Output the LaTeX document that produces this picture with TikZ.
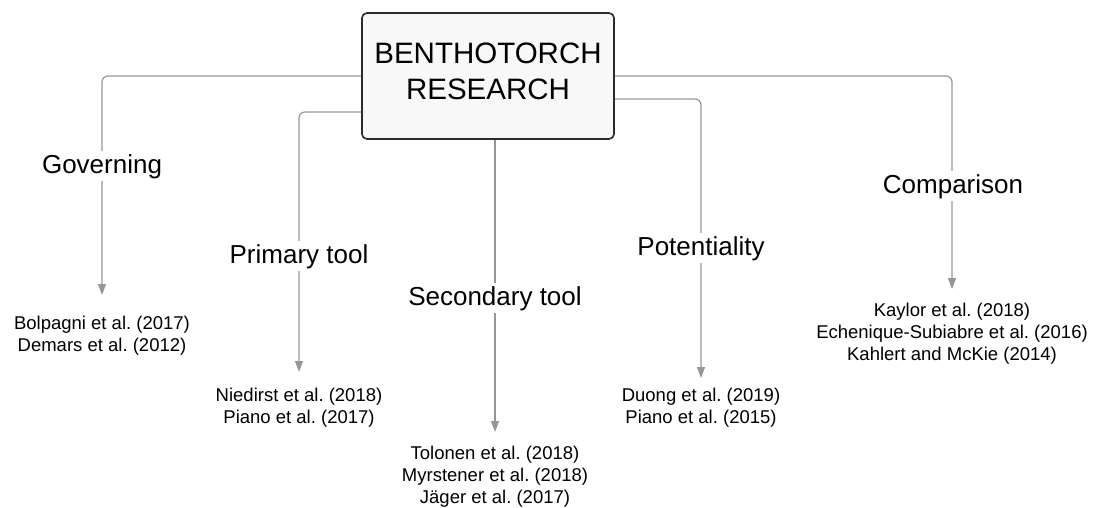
\documentclass[tikz,border=0pt]{standalone}
\usepackage{fontspec}
\setmainfont{Liberation Sans}
\usetikzlibrary{arrows.meta}
\definecolor{linegray}{HTML}{969696}
\definecolor{boxfill}{HTML}{F8F8F8}
\definecolor{boxline}{HTML}{2B2B2B}
\frenchspacing
\begin{document}
\begin{tikzpicture}[x=1pt,y=-1pt,
  topic/.style={draw=boxline, line width=1.6pt, fill=boxfill, rounded corners=5pt,
    minimum width=252pt, minimum height=126pt, align=center,
    font=\fontsize{29.5}{36}\selectfont, text depth=10pt},
  branch/.style={fill=white, inner sep=3pt, anchor=base, font=\fontsize{26}{30}\selectfont},
  refs/.style={anchor=north, inner sep=0pt, align=center, font=\fontsize{18.5}{22}\selectfont},
  link/.style={draw=linegray, line width=1.2pt, rounded corners=6pt,
    -{Triangle[width=8pt,length=11pt]}}]
\useasboundingbox (0,0) rectangle (1099,507);
\node[topic] (topic) at (488,76) {BENTHOTORCH\\RESEARCH};
% references under each branch
\node[refs] (gov) at (102,316) {Bolpagni et al. (2017)\\Demars et al. (2012)};
\node[refs] (prim) at (299,388) {Niedirst et al. (2018)\\Piano et al. (2017)};
\node[refs] (sec) at (495,446) {Tolonen et al. (2018)\\Myrstener et al. (2018)\\Jäger et al. (2017)};
\node[refs] (pot) at (701,388) {Duong et al. (2019)\\Piano et al. (2015)};
\node[refs] (comp) at (952,303) {Kaylor et al. (2018)\\Echenique-Subiabre et al. (2016)\\Kahlert and McKie (2014)};
% connectors
\draw[link, shorten >=21pt] (topic.west) -| (gov.north);
\draw[link, shorten >=16pt] ([yshift=-36pt]topic.west) -| (prim.north);
\draw[link, shorten >=14pt] (topic.south -| sec.north) -- (sec.north);
\draw[link, shorten >=10pt] ([yshift=-23pt]topic.east) -| (pot.north);
\draw[link, shorten >=14pt] (topic.east) -| (comp.north);
% branch labels over the lines
\node[branch] (govlab) at (102,173) {Governing};
\node[branch] (primlab) at (299,263) {Primary tool};
\node[branch] (seclab) at (495,305) {Secondary tool};
\node[branch] (potlab) at (701,255) {Potentiality};
\node[branch] (complab) at (953,193) {Comparison};
\end{tikzpicture}
\end{document}
